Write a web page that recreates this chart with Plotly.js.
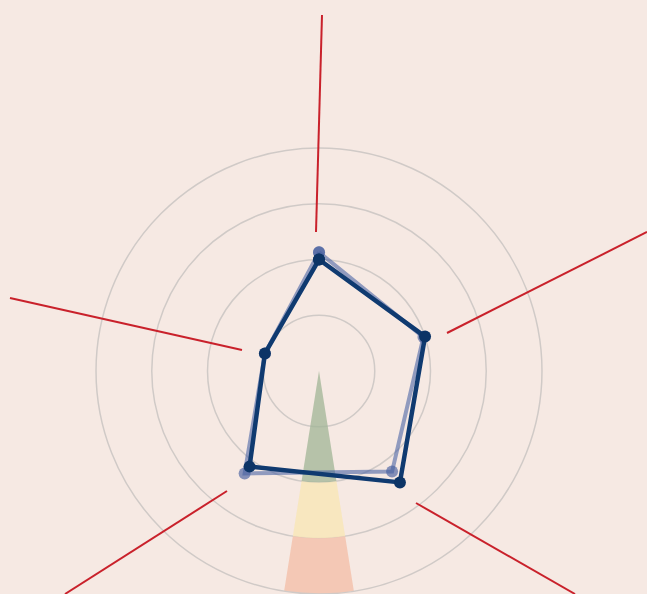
<!DOCTYPE html>
<html>
<head>
<meta charset="utf-8">
<script src="https://cdn.plot.ly/plotly-3.0.1.min.js"></script>
<style>html,body{margin:0;padding:0;background:#f6e9e3;}#chart{width:647px;height:594px;}</style>
</head>
<body>
<div id="chart"></div>
<script>
// Five axes, clockwise from the top
var categories = ["A", "B", "C", "D", "E"];
var seriesDark = [2.0, 2.0, 2.47, 2.12, 1.02];
var seriesLight = [2.13, 1.97, 2.23, 2.27, 1.02];
// Gauge wedge segments (stacked radial lengths)
var wedgeNames = ["green", "yellow", "red"];
var wedgeValues = [2, 1, 1];

var step = 360 / categories.length;
var theta = categories.map(function (c, i) { return i * step; });
function closed(a) { return a.concat([a[0]]); }

var wedgeColors = ["rgba(160,180,150,0.75)", "rgba(248,230,185,0.85)", "rgba(244,196,175,0.9)"];
var wedgeTheta = 2.5 * step; // pointing straight down

var traces = [];
wedgeNames.forEach(function (n, i) {
  traces.push({
    type: "barpolar",
    r: [wedgeValues[i]],
    theta: [wedgeTheta],
    width: [18],
    name: n,
    marker: { color: wedgeColors[i], line: { width: 0 } },
    hoverinfo: "skip",
    showlegend: false
  });
});

traces.push({
  type: "scatterpolar",
  mode: "lines+markers",
  r: closed(seriesLight),
  theta: closed(theta),
  line: { color: "rgba(60,90,160,0.55)", width: 4 },
  marker: { color: "rgba(70,95,160,0.65)", size: 12 },
  showlegend: false
});
traces.push({
  type: "scatterpolar",
  mode: "lines+markers",
  r: closed(seriesDark),
  theta: closed(theta),
  line: { color: "#0f3a70", width: 4.5 },
  marker: { color: "#0c3466", size: 12 },
  showlegend: false
});

var red = { color: "#c9212b", width: 2 };
var layout = {
  width: 647, height: 594,
  margin: { l: 0, r: 0, t: 0, b: 0 },
  paper_bgcolor: "#f6e9e3",
  plot_bgcolor: "#f6e9e3",
  barmode: "stack",
  showlegend: false,
  polar: {
    domain: { x: [0.1484, 0.8377], y: [0, 0.7508] },
    bgcolor: "rgba(0,0,0,0)",
    barmode: "stack",
    radialaxis: {
      range: [0, 4], showline: false, showticklabels: false, ticks: "",
      tickvals: [1, 2, 3], gridcolor: "#d0cac7", gridwidth: 1.5
    },
    angularaxis: {
      type: "linear", rotation: 90, direction: "clockwise",
      showgrid: false, showticklabels: false, ticks: "",
      linecolor: "#d0cac7", linewidth: 1.5
    }
  },
  shapes: [
    { type: "line", xref: "paper", yref: "paper", x0: 322/647, y0: 1-15/594, x1: 316/647, y1: 1-232/594, line: red },
    { type: "line", xref: "paper", yref: "paper", x0: 447/647, y0: 1-333/594, x1: 647/647, y1: 1-232/594, line: red },
    { type: "line", xref: "paper", yref: "paper", x0: 10/647, y0: 1-298/594, x1: 242/647, y1: 1-350/594, line: red },
    { type: "line", xref: "paper", yref: "paper", x0: 227/647, y0: 1-491/594, x1: 65/647, y1: 0, line: red },
    { type: "line", xref: "paper", yref: "paper", x0: 416/647, y0: 1-503/594, x1: 575/647, y1: 0, line: red }
  ]
};

Plotly.newPlot("chart", traces, layout, { displayModeBar: false, staticPlot: true });
</script>
</body>
</html>
